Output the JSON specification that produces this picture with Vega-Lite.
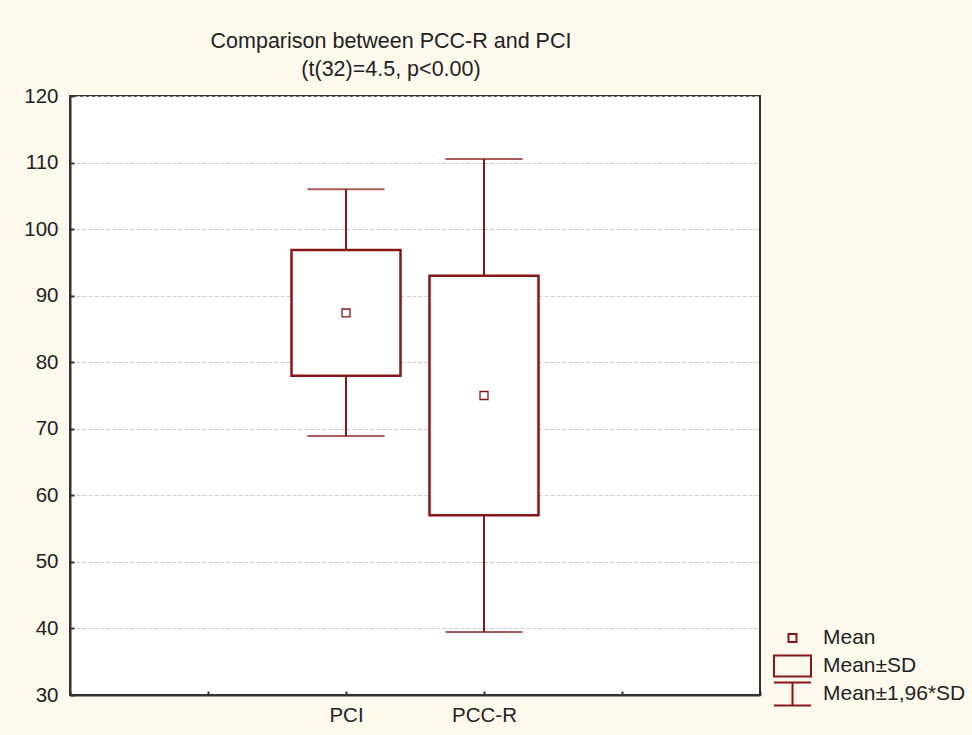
{
  "$schema": "https://vega.github.io/schema/vega-lite/v6.json",
  "width": 690,
  "height": 599,
  "autosize": {"type": "none"},
  "padding": {"left": 70, "top": 96, "right": 212, "bottom": 40},
  "background": "#FFF9EE",
  "title": {
    "text": ["Comparison between PCC-R and PCI", "(t(32)=4.5, p<0.00)"],
    "fontSize": 21.5,
    "font": "Liberation Sans",
    "fontWeight": "normal",
    "color": "#222222",
    "anchor": "middle",
    "dx": -24,
    "offset": 6,
    "lineHeight": 28
  },
  "config": {
    "view": {"fill": "white", "stroke": "#333333", "strokeWidth": 2},
    "axis": {
      "labelFont": "Liberation Sans",
      "labelFontSize": 20.5,
      "labelColor": "#222222",
      "domainColor": "#333333",
      "domainWidth": 2,
      "tickColor": "#333333",
      "tickWidth": 2,
      "title": null
    }
  },
  "data": {
    "values": [
      {"group": "PCI", "mean": 87.4, "sdLo": 77.95, "sdHi": 96.85, "ciLo": 68.9, "ciHi": 106.0, "legend": "Mean"},
      {"group": "PCC-R", "mean": 75.0, "sdLo": 57.0, "sdHi": 93.0, "ciLo": 39.45, "ciHi": 110.55, "legend": "Mean"}
    ]
  },
  "encoding": {
    "x": {
      "field": "group",
      "type": "ordinal",
      "scale": {"type": "point", "domain": ["a", "b", "PCI", "PCC-R", "c", "d"], "padding": 0},
      "axis": {
        "labelAngle": 0,
        "grid": false,
        "tickSize": -4,
        "labelPadding": 14,
        "labelExpr": "indexof(['PCI','PCC-R'], datum.value) >= 0 ? datum.value : ''"
      }
    }
  },
  "layer": [
    {
      "mark": {"type": "rule", "color": "#861617", "strokeWidth": 2},
      "encoding": {
        "y": {
          "field": "ciLo",
          "type": "quantitative",
          "scale": {"domain": [30, 120], "nice": false, "zero": false},
          "axis": {
            "values": [30, 40, 50, 60, 70, 80, 90, 100, 110, 120],
            "grid": true,
            "gridDash": [4, 2],
            "gridColor": "#cccccc",
            "gridWidth": 1,
            "tickSize": -4,
            "labelPadding": 16
          }
        },
        "y2": {"field": "ciHi"}
      }
    },
    {
      "mark": {"type": "tick", "color": "#861617", "size": 77, "thickness": 2},
      "encoding": {"y": {"field": "ciLo", "type": "quantitative"}}
    },
    {
      "mark": {"type": "tick", "color": "#861617", "size": 77, "thickness": 2},
      "encoding": {"y": {"field": "ciHi", "type": "quantitative"}}
    },
    {
      "mark": {"type": "bar", "width": 109, "fill": "white", "stroke": "#861617", "strokeWidth": 2.5},
      "encoding": {
        "y": {"field": "sdLo", "type": "quantitative"},
        "y2": {"field": "sdHi"}
      }
    },
    {
      "mark": {"type": "point", "filled": false, "size": 1369, "color": "#861617", "strokeWidth": 1.3, "opacity": 1},
      "encoding": {
        "y": {"field": "mean", "type": "quantitative"},
        "shape": {
          "field": "legend",
          "type": "nominal",
          "scale": {
            "domain": ["Mean", "Mean±SD", "Mean±1,96*SD"],
            "range": [
              "M-0.216,-0.216H0.216V0.216H-0.216Z",
              "M-1,-0.57H1V0.57H-1Z",
              "M-1,-0.62H1M0,-0.62V0.62M-1,0.62H1"
            ]
          },
          "legend": {
            "orient": "none",
            "legendX": 703,
            "legendY": 528,
            "title": null,
            "padding": 0,
            "symbolStrokeColor": "#861617",
            "symbolFillColor": "transparent",
            "symbolStrokeWidth": 2,
            "symbolSize": 1369,
            "labelFont": "Liberation Sans",
            "labelFontSize": 21,
            "labelColor": "#222222",
            "labelOffset": 11,
            "clipHeight": 28,
            "rowPadding": 0
          }
        }
      }
    }
  ]
}
